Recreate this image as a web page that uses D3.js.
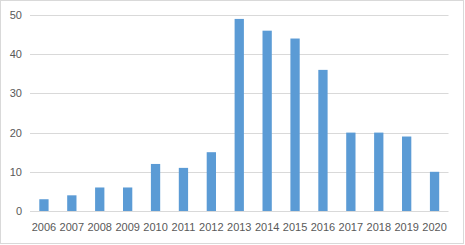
<!DOCTYPE html>
<html><head><meta charset="utf-8">
<script src="https://cdn.jsdelivr.net/npm/d3@7"></script>
<style>body{margin:0;background:#fff}svg{display:block}</style>
</head><body>
<script>
const categories = ["2006","2007","2008","2009","2010","2011","2012","2013","2014","2015","2016","2017","2018","2019","2020"];
const values = [3,4,6,6,12,11,15,49,46,44,36,20,20,19,10];
const yTicks = [0,10,20,30,40,50];

const W = 465, H = 245;
const m = {left: 30, right: 16.5, top: 15, bottom: 34};
const svg = d3.select("body").append("svg").attr("width", W).attr("height", H);
svg.append("rect").attr("x",0.5).attr("y",0.5).attr("width",W-2).attr("height",H-2)
  .attr("fill","#fff").attr("stroke","#d9d9d9");

const x = d3.scaleBand().domain(categories).range([m.left, W-m.right]).paddingInner(0.667).paddingOuter(0.333);
const y = d3.scaleLinear().domain([0,50]).range([H-m.bottom, m.top]);

const g = svg.append("g");
g.selectAll("line.grid").data(yTicks).join("line")
  .attr("x1", m.left).attr("x2", W-m.right)
  .attr("y1", d=>Math.round(y(d))+0.5).attr("y2", d=>Math.round(y(d))+0.5)
  .attr("stroke","#d9d9d9").attr("stroke-width",1);

g.selectAll("rect.bar").data(values).join("rect")
  .attr("x",(d,i)=>x(categories[i])).attr("width",x.bandwidth())
  .attr("y",d=>y(d)).attr("height",d=>y(0)-y(d)).attr("fill","#5b9bd5");

const yAxis = d3.axisLeft(y).tickValues(yTicks).tickSize(0).tickPadding(8);
const ya = svg.append("g").attr("transform",`translate(${m.left},0)`).call(yAxis);
ya.select(".domain").remove();
ya.selectAll("text").attr("fill","#595959").style("font-family","Liberation Sans, Arial, sans-serif").style("font-size","11px");

const xAxis = d3.axisBottom(x).tickSize(0).tickPadding(12);
const xa = svg.append("g").attr("transform",`translate(0,${H-m.bottom})`).call(xAxis);
xa.select(".domain").remove();
xa.selectAll("text").attr("fill","#595959").style("font-family","Liberation Sans, Arial, sans-serif").style("font-size","11px");
</script>
</body></html>
